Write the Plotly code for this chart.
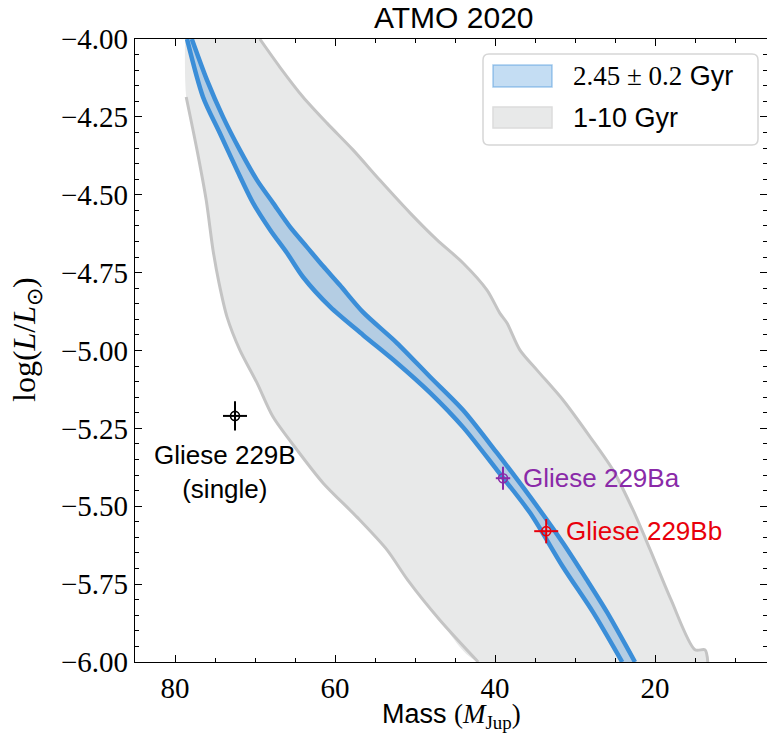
import plotly.graph_objects as go

# ---- isochrone data (mass in M_Jup, log L/Lsun) ----
# ATMO 2020, 2.25 Gyr (upper edge of the age band)
band_young_mass = [77.9, 76.0, 74.0, 71.9, 69.75, 67.75, 65.6, 63.5, 61.5, 59.4,
                   56.5, 52.25, 48.1, 44.0, 39.75, 35.6, 31.5, 28.5, 26.0, 22.5]
band_young_logL = [-4.000, -4.132, -4.250, -4.356, -4.453, -4.526, -4.604, -4.668,
                   -4.729, -4.790, -4.877, -4.976, -5.085, -5.191, -5.329, -5.470,
                   -5.618, -5.737, -5.840, -6.000]
# ATMO 2020, 2.65 Gyr (lower edge of the age band)
band_old_mass = [78.5, 76.5, 74.4, 72.25, 70.25, 68.1, 66.0, 64.0, 60.6, 56.5,
                 52.25, 48.1, 44.0, 39.75, 35.6, 31.5, 27.75, 24.1]
band_old_logL = [-4.000, -4.186, -4.302, -4.421, -4.526, -4.613, -4.687, -4.764,
                 -4.860, -4.950, -5.040, -5.136, -5.246, -5.384, -5.522, -5.695,
                 -5.840, -6.000]

# ATMO 2020, 1 Gyr isochrone
iso_1gyr_mass = [69.4, 66.9, 64.0, 61.0, 57.75, 54.4, 50.6, 47.25, 44.0, 41.0,
                 39.4, 38.5, 36.9, 34.75, 31.5, 28.1, 25.25, 22.75, 20.6, 18.0,
                 15.0, 13.75, 13.4]
iso_1gyr_logL = [-4.000, -4.090, -4.186, -4.270, -4.356, -4.453, -4.559, -4.645,
                 -4.719, -4.806, -4.880, -4.912, -4.998, -5.063, -5.159, -5.278,
                 -5.384, -5.512, -5.640, -5.800, -5.961, -5.961, -6.000]
# ATMO 2020, 10 Gyr isochrone
iso_10gyr_mass = [78.6, 77.25, 76.1, 75.25, 74.5, 73.5, 71.9, 69.75, 67.75, 64.75,
                  61.5, 57.25, 53.5, 50.9, 46.9, 42.1]
iso_10gyr_logL = [-4.186, -4.356, -4.517, -4.677, -4.783, -4.892, -4.998, -5.104,
                  -5.213, -5.319, -5.425, -5.535, -5.640, -5.737, -5.865, -6.000]
# upper-left corner of the 1-10 Gyr region (stellar boundary)
region_corner_mass = [78.75]
region_corner_logL = [-4.000]

# ---- measured objects ----
obj_names = ["Gliese 229B<br>(single)", "Gliese 229Ba", "Gliese 229Bb"]
obj_mass = [72.5, 39.0, 33.6]
obj_mass_err = [1.5, 0.9, 1.5]
obj_logL = [-5.21, -5.41, -5.58]
obj_logL_err = [0.047, 0.037, 0.039]
obj_colors = ["#000000", "#8a2aa8", "#e8000b"]

# ---- styling ----
SANS = "Liberation Sans, Arial, Helvetica, sans-serif"
SERIF = "Liberation Serif, Times New Roman, serif"
GRAY_FILL = "rgb(232,233,233)"
GRAY_LINE = "rgb(196,196,196)"
BLUE = "rgb(59,142,216)"
BLUE_FILL = "rgba(59,142,216,0.30)"
SMOOTH = 0.8

W, H = 767, 742
L_M, R_M, T_M, B_M = 135, 0, 39, 80
PW, PH = W - L_M - R_M, H - T_M - B_M


def pxx(p):
    return (p - L_M) / PW


def pxy(p):
    return (H - B_M - p) / PH


fig = go.Figure()

# 1-10 Gyr region
region_m = iso_1gyr_mass + iso_10gyr_mass[::-1] + region_corner_mass
region_l = iso_1gyr_logL + iso_10gyr_logL[::-1] + region_corner_logL
fig.add_trace(go.Scatter(x=region_m, y=region_l, fill="toself", fillcolor=GRAY_FILL,
                         mode="lines", line=dict(width=0, shape="spline", smoothing=SMOOTH),
                         hoverinfo="skip", showlegend=False))
for m, l in ((iso_1gyr_mass, iso_1gyr_logL), (iso_10gyr_mass, iso_10gyr_logL)):
    fig.add_trace(go.Scatter(x=m, y=l, mode="lines",
                             line=dict(color=GRAY_LINE, width=3, shape="spline",
                                       smoothing=SMOOTH),
                             hoverinfo="skip", showlegend=False))

# 2.45 +/- 0.2 Gyr band
band_m = band_young_mass + band_old_mass[::-1]
band_l = band_young_logL + band_old_logL[::-1]
fig.add_trace(go.Scatter(x=band_m, y=band_l, fill="toself", fillcolor=BLUE_FILL,
                         mode="lines", line=dict(width=0, shape="spline", smoothing=SMOOTH),
                         hoverinfo="skip", showlegend=False))
for m, l in ((band_young_mass, band_young_logL), (band_old_mass, band_old_logL)):
    fig.add_trace(go.Scatter(x=m, y=l, mode="lines",
                             line=dict(color=BLUE, width=4.5, shape="spline",
                                       smoothing=SMOOTH),
                             hoverinfo="skip", showlegend=False))

# objects with error bars
for i in range(len(obj_names)):
    c = obj_colors[i]
    fig.add_trace(go.Scatter(
        x=[obj_mass[i]], y=[obj_logL[i]], mode="markers",
        marker=dict(symbol="circle-open", size=9, color=c, line=dict(width=1.6, color=c)),
        error_x=dict(type="data", array=[obj_mass_err[i]], color=c, thickness=2, width=0),
        error_y=dict(type="data", array=[obj_logL_err[i]], color=c, thickness=2, width=0),
        showlegend=False, hoverinfo="skip"))

annotations = []
# label for the single-object fit sits below its point
annotations.append(dict(x=obj_mass[0], y=obj_logL[0], xref="x", yref="y",
                        text=obj_names[0], showarrow=False, xanchor="center",
                        yanchor="top", xshift=-10, yshift=-22,
                        font=dict(family=SANS, size=26, color=obj_colors[0])))
for i in (1, 2):
    annotations.append(dict(x=obj_mass[i], y=obj_logL[i], xref="x", yref="y",
                            text=obj_names[i], showarrow=False, xanchor="left",
                            yanchor="middle", xshift=18,
                            font=dict(family=SANS, size=26, color=obj_colors[i])))

# axis titles
annotations.append(dict(
    x=0.5, y=pxy(716), xref="paper", yref="paper", showarrow=False,
    xanchor="center", yanchor="middle",
    text=f'Mass <span style="font-family:{SERIF}">(<i>M</i><sub>Jup</sub>)</span>',
    font=dict(family=SANS, size=27, color="black")))
annotations.append(dict(
    x=pxx(26), y=pxy(340), xref="paper", yref="paper", showarrow=False,
    xanchor="center", yanchor="middle", textangle=-90,
    text="log(<i>L</i>/<i>L</i><sub>⊙</sub>)",
    font=dict(family=SERIF, size=32, color="black")))
annotations.append(dict(
    x=pxx(454), y=pxy(18), xref="paper", yref="paper", showarrow=False,
    xanchor="center", yanchor="middle", text="ATMO 2020",
    font=dict(family=SANS, size=30, color="black")))

# legend
shapes = []
bx0, bx1, by0, by1, rad = 483, 758, 54, 145, 6
rx, ry = rad / PW, rad / PH
x0, x1, y0, y1 = pxx(bx0), pxx(bx1), pxy(by0), pxy(by1)
path = (f"M {x0+rx},{y0} L {x1-rx},{y0} Q {x1},{y0} {x1},{y0-ry} "
        f"L {x1},{y1+ry} Q {x1},{y1} {x1-rx},{y1} L {x0+rx},{y1} "
        f"Q {x0},{y1} {x0},{y1+ry} L {x0},{y0-ry} Q {x0},{y0} {x0+rx},{y0} Z")
shapes.append(dict(type="path", path=path, xref="paper", yref="paper",
                   fillcolor="rgba(255,255,255,0.85)",
                   line=dict(color="rgb(214,214,214)", width=1.5), layer="above"))
legend_rows = [
    (65, 87, BLUE_FILL, "rgba(59,142,216,0.45)",
     f'<span style="font-family:{SERIF}">2.45 ± 0.2</span> Gyr'),
    (107, 128, GRAY_FILL, "rgb(220,220,220)", "1-10 Gyr"),
]
for top, bot, fc, lc, label in legend_rows:
    shapes.append(dict(type="rect", xref="paper", yref="paper",
                       x0=pxx(493), x1=pxx(552), y0=pxy(bot), y1=pxy(top),
                       fillcolor=fc, line=dict(color=lc, width=1.5), layer="above"))
    annotations.append(dict(x=pxx(571), y=pxy((top + bot) / 2), xref="paper",
                            yref="paper", showarrow=False, xanchor="left",
                            yanchor="middle", text=label,
                            font=dict(family=SANS, size=27, color="black")))

axis_common = dict(
    showline=True, linecolor="black", linewidth=1.3, mirror="allticks",
    ticks="inside", ticklen=7, tickwidth=1.2, tickcolor="black",
    showgrid=False, zeroline=False,
    tickfont=dict(family=SERIF, size=29, color="black"),
)
fig.update_xaxes(range=[85, 6], tick0=0, dtick=20,
                 minor=dict(ticks="inside", ticklen=4, tickwidth=1.1,
                            tickcolor="black", dtick=5, tick0=0, showgrid=False),
                 **axis_common)
fig.update_yaxes(range=[-6, -4], tick0=-4, dtick=0.25, tickformat=".2f",
                 minor=dict(ticks="inside", ticklen=4, tickwidth=1.1,
                            tickcolor="black", dtick=0.05, tick0=-4, showgrid=False),
                 **axis_common)

fig.update_layout(
    width=W, height=H,
    margin=dict(l=L_M, r=R_M, t=T_M, b=B_M),
    paper_bgcolor="white", plot_bgcolor="white",
    showlegend=False,
    annotations=annotations, shapes=shapes,
)

fig.write_html("out.html")
